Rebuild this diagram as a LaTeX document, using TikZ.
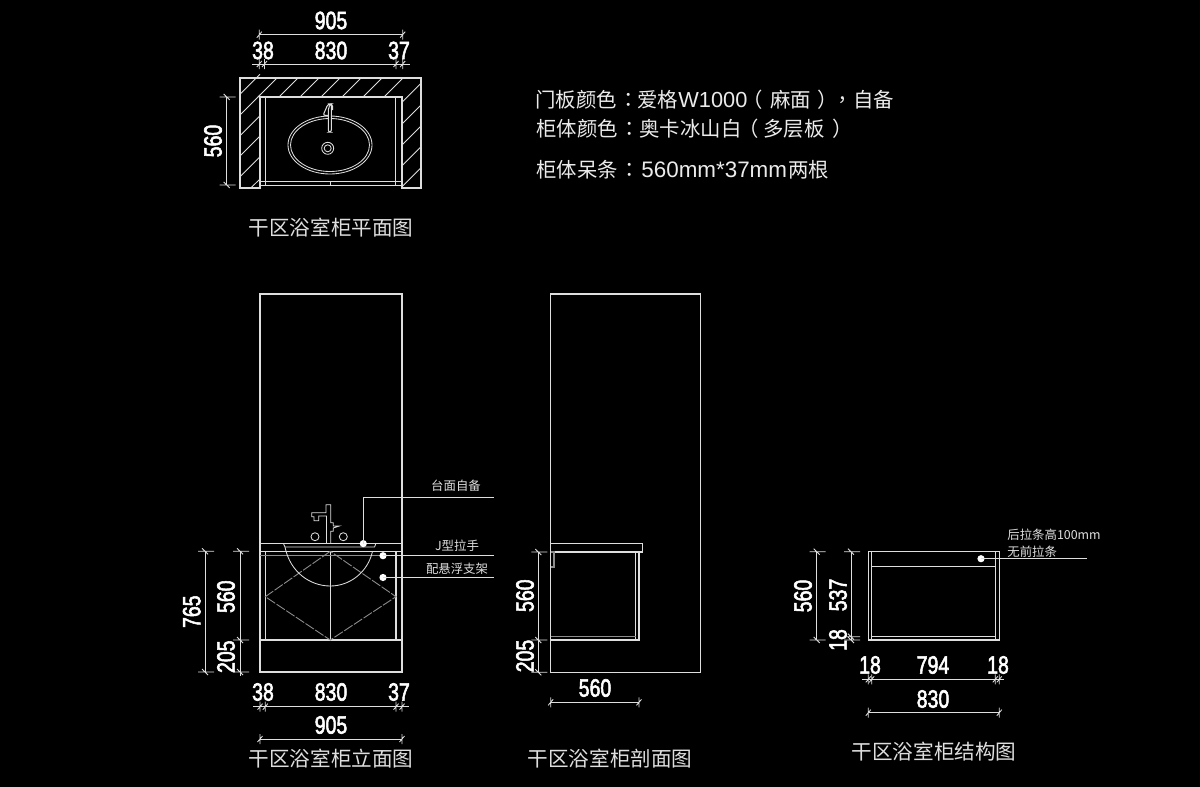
\documentclass[tikz,border=0pt]{standalone}
\usepackage{graphicx}
\usepackage{fontspec}
\setmainfont{Liberation Sans}
\newfontfamily\cjk{Noto Sans CJK SC}
\newfontfamily\cjkp{Noto Sans CJK TC}
\newfontfamily\dimfont[FakeBold=2.6]{Liberation Sans}
\definecolor{ln}{gray}{0.87}
\definecolor{gl}{gray}{0.55}
\newcommand{\hdimtick}[2]{\draw[dimline] (#1,#2-5) -- (#1,#2+5) (#1-2.5,#2+3) -- (#1+2.5,#2-3);}
\newcommand{\vdimtick}[2]{\draw[dimline] (#1-7,#2) -- (#1+9,#2) (#1-3,#2-3) -- (#1+3,#2+3);}
\newcommand{\dimnum}[1]{\dimfont\fontsize{12.5}{12.5}\selectfont\scalebox{0.78}[1]{#1}}
\newcommand{\seg}[2]{\rlap{\kern#1pt #2}}
\newcommand{\lat}[2]{{\rmfamily\fontsize{#1}{#1}\selectfont #2}}
\tikzset{
 x=0.5pt,y=-0.5pt,
 part/.style={draw=ln,line width=0.52pt,line join=miter},
 thin part/.style={draw=ln,line width=0.42pt},
 grey part/.style={draw=gl,line width=0.55pt},
 hatch/.style={draw=ln,line width=0.42pt},
 dash part/.style={draw=gl,line width=0.45pt,dash pattern=on 5pt off 0.8pt},
 dimline/.style={draw=ln,line width=0.42pt},
 leader/.style={draw=ln,line width=0.5pt},
 dotmark/.style={fill=white,draw=none,circle,minimum size=3.6pt,inner sep=0pt},
 dimtext/.style={text=white,inner sep=0pt},
 vdimtext/.style={dimtext,rotate=90},
 title/.style={text=ln,inner sep=0pt,font=\cjk\fontsize{10.3}{10.3}\selectfont},
 note/.style={text=white!92!black,inner sep=0pt,anchor=base west,font=\cjk\fontsize{10.2}{10.2}\selectfont},
 small/.style={text=ln,inner sep=0pt,font=\cjk\fontsize{6.2}{6.2}\selectfont},
}
\begin{document}
\begin{tikzpicture}
\path[fill=black] (0,0) rectangle (1200,787);
\useasboundingbox (0,0) rectangle (1200,787);

%% PLAN
\draw[part] (260,185) -- (260,188) -- (240,188) -- (240,78) -- (421,78) -- (421,188) -- (402,188) -- (402,97) -- (260,97) -- (260,188);
\draw[thin part] (265.7,97) -- (265.7,185) (395.7,97) -- (395.7,185);
\draw[thin part] (260,181) -- (402,181) (260,185) -- (402,185) (330.5,182) -- (330.5,185);
\foreach \t in {277,298,319,340,361,382,403} \draw[hatch] (\t,78) -- (\t-19,97);
\foreach \l in {94.3,115,135.7,156,176.7} \draw[hatch] (240,\l) -- (260,\l-20);
\draw[hatch] (250.7,188) -- (260,179);
\foreach \r in {83.3,105,126,146.7,167.7} \draw[hatch] (402,\r+19) -- (421,\r);
\draw[thin part] (330,145) ellipse [x radius=42,y radius=29];
\draw[thin part] (330,145) ellipse [x radius=39.5,y radius=26.5];
\draw[thin part] (327.7,148.3) circle [radius=6];
\draw[thin part] (327.7,148.3) circle [radius=3.5];
\draw[part,fill=black,rounded corners=1pt] (328.3,108) -- (331.3,103) -- (331.3,132) -- (328.3,132) -- cycle;
\draw[part,rounded corners=1.2pt] (328.5,115.5) -- (323,115.5) -- (328,104) -- (332.5,104) -- (332.5,110);

\draw[dimline] (259.3,34.7) -- (402.7,34.7);
\hdimtick{259.3}{34.7}\hdimtick{402.7}{34.7}
\draw[dimline] (252,64) -- (410,64);
\foreach \x in {259.3,264.5,396,402.7} {\hdimtick{\x}{64}}
\node[dimtext] (p905) at (331,20.5) {\dimnum{905}};
\node[dimtext] (p38) at (263,50.5) {\dimnum{38}};
\node[dimtext] (p830) at (331,50.5) {\dimnum{830}};
\node[dimtext] (p37) at (399,50.5) {\dimnum{37}};
\draw[dimline] (226.7,97) -- (226.7,185);
\vdimtick{226.7}{97}\vdimtick{226.7}{185}
\node[vdimtext] (p560) at (213,141) {\dimnum{560}};
\node[title] (t1) at (331,228) {干区浴室柜平面图};

%% NOTES
\node[note] (n1) at (534,107) {\seg{0}{门板颜色}\seg{41.5}{\cjkp ：}\seg{51}{爱格}\seg{71.5}{\lat{10.9}{W1000}}\seg{103.5}{（}\seg{117.5}{麻面}\seg{141}{）}\seg{148.5}{\cjkp ，}\seg{159}{自备}\strut};
\node[note] (n2) at (534,136) {\seg{0.5}{柜体颜色}\seg{42}{\cjkp ：}\seg{52}{奥卡冰山白}\seg{101.5}{（}\seg{114}{多层板}\seg{148.5}{）}\strut};
\node[note] (n3) at (534,177.5) {\seg{0.5}{柜体呆条}\seg{42}{\cjkp ：}\seg{53}{\lat{11.2}{560mm*37mm}}\seg{126.5}{两根}\strut};

%% ELEVATION
\draw[part] (260,294) rectangle (402,672);
\draw[part] (260,543.3) -- (402,543.3) (260,551.3) -- (402,551.3);
\draw[part] (260,640) -- (402,640);
\draw[part] (265.3,551.3) -- (265.3,640) (396,551.3) -- (396,640) (330.3,551.3) -- (330.3,640);
\draw[grey part] (260,555.7) -- (402,555.7);
\draw[dash part] (330.3,551.3) -- (265.3,596.7) -- (330.3,640) -- (396,596.7) -- cycle;
\draw[thin part] (283.3,543.3) -- (285,547) -- (374.5,547) -- (376,543.3);
\draw[thin part] (285,547) .. controls (290,572) and (310,586) .. (330.3,586) .. controls (350,586) and (368,572) .. (372.5,551.3);
\draw[thin part] (326.5,543.3) -- (326.5,516) -- (318.7,516) -- (318.7,520.7) -- (314,520.7) -- (314,516.7) -- (311.7,516.7) -- (311.7,512.7) -- (326,512.7) -- (326,504.7) -- (330.7,504.7) -- (330.7,522.7) -- (333.3,522.7) -- (333.3,526) -- (339.3,526) -- (333.3,528) -- (333.3,531.3) -- (330.7,531.3) -- (330.7,543.3);
\draw[thin part] (315,536.7) circle [radius=4];
\draw[thin part] (343.3,536.7) circle [radius=4];

\node[dotmark] (d1) at (363.3,543.6) {};
\node[dotmark] (d2) at (383,555.7) {};
\node[dotmark] (d3) at (383,577.5) {};
\coordinate (l1) at (494,497.3);
\coordinate (l2) at (494,555.7);
\coordinate (l3) at (494,577.5);
\draw[leader] (d1.center) |- (l1);
\draw[leader] (d2.center) -- (l2);
\draw[leader] (d3.center) -- (l3);
\node[small] (a1) at (456,486) {台面自备};
\node[small] (a2) at (457,546) {J型拉手};
\node[small] (a3) at (457,569) {配悬浮支架};

\draw[dimline] (205,551.3) -- (205,672);
\vdimtick{205}{551.3}\vdimtick{205}{672}
\draw[dimline] (240,551.3) -- (240,676);
\vdimtick{240}{551.3}\vdimtick{240}{640}\vdimtick{240}{672}
\node[vdimtext] (e765) at (191.7,611.7) {\dimnum{765}};
\node[vdimtext] (e560) at (226,596.7) {\dimnum{560}};
\node[vdimtext] (e205) at (226,656.7) {\dimnum{205}};
\draw[dimline] (253,706.7) -- (409,706.7);
\foreach \x in {260,265.3,396,402} {\hdimtick{\x}{706.7}}
\node[dimtext] (f38) at (263,692) {\dimnum{38}};
\node[dimtext] (f830) at (331,692) {\dimnum{830}};
\node[dimtext] (f37) at (399,692) {\dimnum{37}};
\draw[dimline] (260,739) -- (402,739);
\hdimtick{260}{739}\hdimtick{402}{739}
\node[dimtext] (f905) at (331,725) {\dimnum{905}};
\node[title] (t2) at (331,759) {干区浴室柜立面图};

%% SECTION
\draw[part] (550.7,294) rectangle (700.3,672.3);
\draw[part] (550.7,543.3) rectangle (642.3,552);
\draw[part] (550.7,640) -- (639,640) -- (639,552);
\draw[thin part] (635.7,552) -- (635.7,640);
\draw[grey part] (550.7,636.7) -- (635.7,636.7);
\draw[grey part] (551,552) -- (554,552) -- (554,567) -- (551,567);
\draw[dimline] (538.3,552) -- (538.3,672.3);
\vdimtick{538.3}{552}\vdimtick{538.3}{640}\vdimtick{538.3}{672.3}
\node[vdimtext] (s560) at (525,595.7) {\dimnum{560}};
\node[vdimtext] (s205) at (525,656) {\dimnum{205}};
\draw[dimline] (550.7,702.3) -- (639,702.3);
\hdimtick{550.7}{702.3}\hdimtick{639}{702.3}
\node[dimtext] (s560b) at (595,688) {\dimnum{560}};
\node[title] (t3) at (610,759) {干区浴室柜剖面图};

%% STRUCTURE
\draw[part] (868.3,551.7) rectangle (999.3,640);
\draw[thin part] (871.7,551.7) -- (871.7,640) (995.3,551.7) -- (995.3,640);
\draw[thin part] (871.7,566) -- (995.3,566);
\draw[thin part] (871.7,636.7) -- (995.3,636.7);
\node[dotmark] (d4) at (981,558.7) {};
\coordinate (l4) at (1086.7,558.7);
\draw[leader] (d4.center) -- (l4);
\node[small,anchor=west] (b1) at (1007,535) {后拉条高100mm};
\node[small,anchor=west] (b2) at (1007,552) {无前拉条};
\draw[dimline] (816.7,551.7) -- (816.7,640);
\vdimtick{816.7}{551.7}\vdimtick{816.7}{640}
\draw[dimline] (851,551.7) -- (851,640);
\vdimtick{851}{551.7}\vdimtick{851}{636.7}\vdimtick{851}{640}
\node[vdimtext] (c560) at (803,596) {\dimnum{560}};
\node[vdimtext] (c537) at (838,595) {\dimnum{537}};
\node[vdimtext] (c18) at (838,640) {\dimnum{18}};
\draw[dimline] (862,679.3) -- (1004,679.3);
\foreach \x in {868.3,871.7,995.3,999.3} {\hdimtick{\x}{679.3}}
\node[dimtext] (g18a) at (870,665) {\dimnum{18}};
\node[dimtext] (g794) at (933,665) {\dimnum{794}};
\node[dimtext] (g18b) at (998,665) {\dimnum{18}};
\draw[dimline] (868.3,712.7) -- (999.3,712.7);
\hdimtick{868.3}{712.7}\hdimtick{999.3}{712.7}
\node[dimtext] (g830) at (933,699) {\dimnum{830}};
\node[title] (t4) at (934,752) {干区浴室柜结构图};
\end{tikzpicture}
\end{document}
